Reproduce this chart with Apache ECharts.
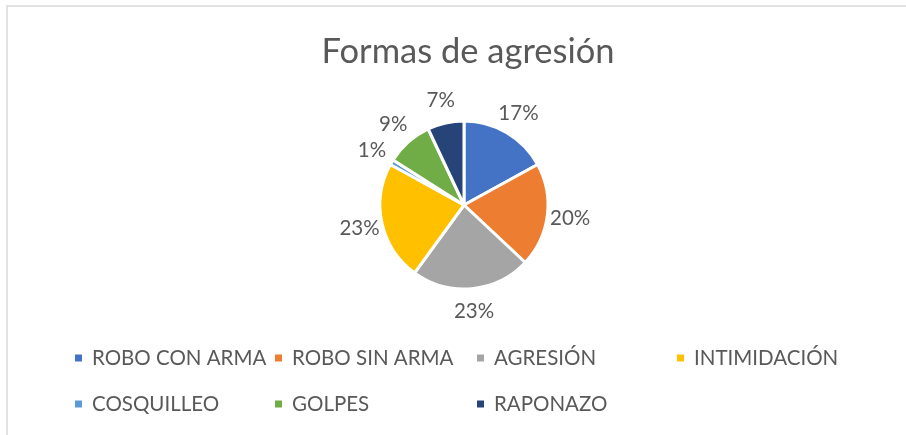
<!DOCTYPE html>
<html>
<head>
<meta charset="utf-8">
<script src="https://cdn.jsdelivr.net/npm/echarts@6/dist/echarts.min.js"></script>
<style>
  html, body { margin: 0; padding: 0; background: #fff; }
  #chart { width: 906px; height: 435px; }
</style>
</head>
<body>
<div id="chart"></div>
<script>
// categorias y valores (porcentajes)
const categories = ['ROBO CON ARMA', 'ROBO SIN ARMA', 'AGRESIÓN', 'INTIMIDACIÓN', 'COSQUILLEO', 'GOLPES', 'RAPONAZO']
const values = [17, 20, 23, 23, 1, 9, 7]
const colors = ['#4472C4', '#ED7D31', '#A5A5A5', '#FFC000', '#5B9BD5', '#70AD47', '#264478']

// leyenda en 4 columnas, como en Excel
const legendColumns = [
  ['ROBO CON ARMA', 'COSQUILLEO'],
  ['ROBO SIN ARMA', 'GOLPES'],
  ['AGRESIÓN', 'RAPONAZO'],
  ['INTIMIDACIÓN'],
]
const legendLeft = [73, 273, 475, 675]

const font = 'Lato, "Open Sans", sans-serif'
const textColor = '#595959'

const chart = echarts.init(document.getElementById('chart'))

const pieData = categories.map((name, i) => ({ name, value: values[i] }))

const option = {
  color: colors,
  title: {
    text: 'Formas de agresión',
    left: 463,
    textAlign: 'center',
    top: 29,
    textStyle: {
      color: textColor,
      fontFamily: font,
      fontSize: 34.5,
      fontWeight: 'normal',
    },
  },
  legend: legendColumns.map((col, i) => ({
    orient: 'vertical',
    left: legendLeft[i],
    top: 346,
    padding: 0,
    itemWidth: 9,
    itemHeight: 9,
    itemGap: 22,
    icon: 'rect',
    data: col,
    textStyle: {
      color: textColor,
      fontFamily: font,
      fontSize: 20.5,
      lineHeight: 24,
      padding: [0, 0, 0, 4],
    },
  })),
  graphic: [
    {
      type: 'rect',
      shape: { x: 7, y: 6, width: 1000, height: 1000 },
      style: { fill: 'none', stroke: '#d9d9d9', lineWidth: 1.5 },
      silent: true,
    },
  ],
  series: [
    {
      type: 'pie',
      center: [464, 205],
      radius: 84,
      startAngle: 90,
      clockwise: true,
      data: pieData,
      itemStyle: {
        borderColor: '#fff',
        borderWidth: 3,
      },
      label: { show: false },
      labelLine: { show: false },
      emphasis: { disabled: true },
      animation: false,
    },
    // anillo invisible solo para colocar las etiquetas fuera del pastel
    {
      type: 'pie',
      center: [464, 205],
      radius: [84, 124],
      startAngle: 90,
      clockwise: true,
      silent: true,
      data: pieData,
      itemStyle: { color: 'rgba(0,0,0,0)' },
      label: {
        show: true,
        position: 'inside',
        formatter: (p) => Math.round(p.percent) + '%',
        color: textColor,
        fontFamily: font,
        fontSize: 20.5,
      },
      labelLine: { show: false },
      emphasis: { disabled: true },
      animation: false,
    },
  ],
}

chart.setOption(option)
</script>
</body>
</html>
